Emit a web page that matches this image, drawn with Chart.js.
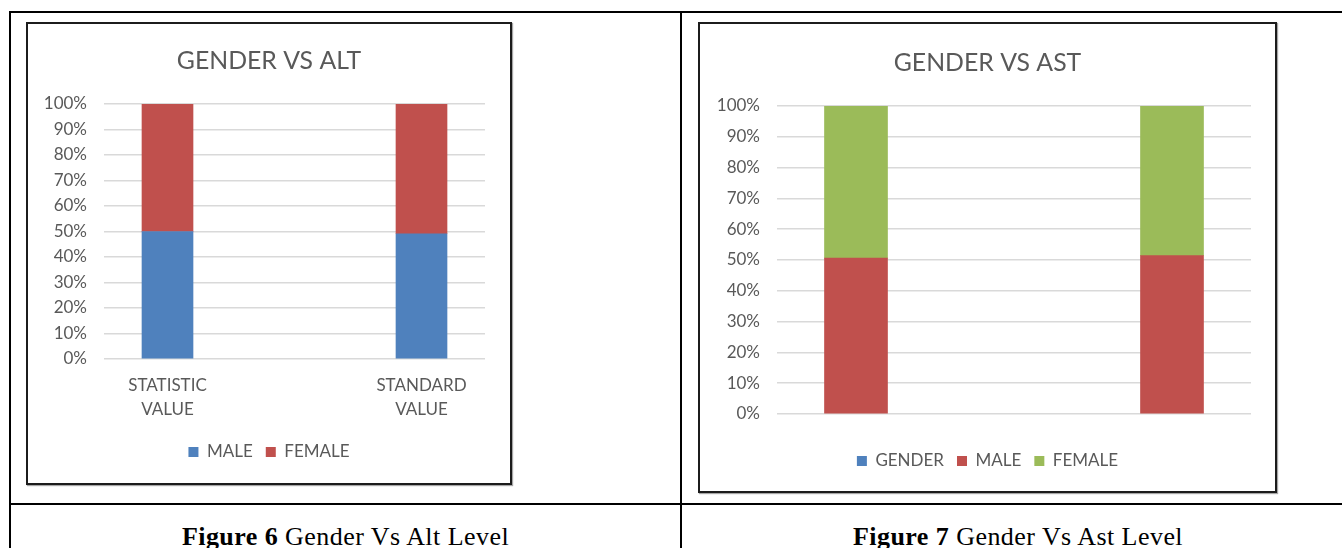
<!DOCTYPE html>
<html>
<head>
<meta charset="utf-8">
<title>Gender vs ALT / AST</title>
<script src="https://cdn.jsdelivr.net/npm/chart.js@4.4.1/dist/chart.umd.min.js"></script>
<style>
  html, body { margin: 0; padding: 0; background: #fff; }
  body { width: 1342px; height: 548px; position: relative; overflow: hidden; }
  .rule { position: absolute; background: #000; }
  .frame { position: absolute; box-sizing: border-box; border: 2px solid #1c1c1c;
           box-shadow: 1px 1px 1px rgba(0,0,0,0.35); background: #fff; }
  canvas { position: absolute; }
  .caption { position: absolute; font-family: 'Liberation Serif', 'DejaVu Serif', serif;
             font-size: 26px; line-height: 30px; letter-spacing: 0.45px;
             text-align: center; color: #000; white-space: nowrap; }
  .caption b { font-weight: bold; }
</style>
</head>
<body>
  <!-- table rules -->
  <div class="rule" style="left:9px; top:11px; width:1333px; height:2px"></div>
  <div class="rule" style="left:9px; top:11px; width:2px; height:537px"></div>
  <div class="rule" style="left:680px; top:11px; width:2px; height:537px"></div>
  <div class="rule" style="left:9px; top:503px; width:1333px; height:2px"></div>

  <!-- chart frames -->
  <div class="frame" style="left:26px; top:22px; width:486px; height:463px"></div>
  <canvas id="altChart" width="482" height="457" style="left:28px; top:25px"></canvas>

  <div class="frame" style="left:698px; top:22px; width:579px; height:471px"></div>
  <canvas id="astChart" width="573" height="465" style="left:701px; top:25px"></canvas>

  <div class="caption" style="left:11px; top:522px; width:669px"><b>Figure 6</b> Gender Vs Alt Level</div>
  <div class="caption" style="left:682px; top:522px; width:672px"><b>Figure 7</b> Gender Vs Ast Level</div>

<script>
// ---- data ----
const altCategories = ['STATISTIC VALUE', 'STANDARD VALUE'];
const altMale   = [50.0, 49.1];
const altFemale = [50.0, 50.9];

const astCategories = ['', ''];
const astGender = [null, null];
const astMale   = [50.6, 51.4];
const astFemale = [49.4, 48.6];

const percentTicks = [0, 10, 20, 30, 40, 50, 60, 70, 80, 90, 100];

// ---- palette ----
const BLUE = '#4F81BD', RED = '#C0504D', GREEN = '#9BBB59';
const TEXT = '#595959', GRID = '#d9d9d9';

Chart.defaults.font.family = "Lato, 'Open Sans', sans-serif";
Chart.defaults.color = TEXT;

function series(label, values, color) {
  return {
    label,
    data: values.map((v, i) => ({ x: i, y: v })),
    backgroundColor: color,
    borderWidth: 0
  };
}

function percentStack(canvasId, cfg) {
  return new Chart(document.getElementById(canvasId), {
    type: 'bar',
    data: { datasets: cfg.datasets },
    options: {
      responsive: false,
      animation: false,
      barThickness: cfg.barThickness,
      layout: { padding: { left: 0, right: 0, top: 0, bottom: cfg.bottomPad } },
      plugins: {
        tooltip: { enabled: false },
        title: {
          display: true,
          text: cfg.title,
          color: TEXT,
          font: { size: 24.8, weight: 'normal' },
          padding: { top: cfg.titleTop, bottom: cfg.titleBottom }
        },
        legend: {
          position: 'bottom',
          labels: { boxWidth: 10, boxHeight: 10, padding: 13, color: TEXT, font: { size: 17 } }
        }
      },
      scales: {
        x: {
          type: 'linear',
          stacked: true,
          offset: false,
          min: -0.25,
          max: 1.25,
          grid: { display: false, drawTicks: false },
          border: { display: false },
          afterBuildTicks: s => { s.ticks = cfg.categories.map((_, i) => ({ value: i })); },
          afterFit: s => { s.height = cfg.xAxisHeight; },
          ticks: {
            display: cfg.showCategories,
            autoSkip: false,
            maxRotation: 0,
            padding: 15,
            color: TEXT,
            font: { size: 17, lineHeight: 1.38 },
            callback: v => (cfg.categories[v] || '').split(' ')
          }
        },
        y: {
          stacked: true,
          min: 0,
          max: 100,
          grid: { color: GRID, lineWidth: 1.5, drawTicks: false },
          border: { display: false },
          afterBuildTicks: s => { s.ticks = percentTicks.map(v => ({ value: v })); },
          afterFit: s => { s.width = cfg.yAxisWidth; },
          ticks: {
            padding: 17,
            color: TEXT,
            font: { size: 17 },
            callback: v => v + '%'
          }
        },
        // empty right-hand margin of the plot area
        rightMargin: {
          axis: 'y',
          position: 'right',
          grid: { display: false, drawTicks: false },
          border: { display: false },
          ticks: { display: false },
          afterFit: s => { s.width = cfg.rightMargin; }
        }
      }
    }
  });
}

percentStack('altChart', {
  title: 'GENDER VS ALT',
  categories: altCategories,
  showCategories: true,
  datasets: [
    series('MALE', altMale, BLUE),
    series('FEMALE', altFemale, RED)
  ],
  barThickness: 51,
  bottomPad: 11.5,
  titleTop: 21.6,
  titleBottom: 27.6,
  xAxisHeight: 71.5,
  yAxisWidth: 76,
  rightMargin: 25
});

percentStack('astChart', {
  title: 'GENDER VS AST',
  categories: astCategories,
  showCategories: false,
  datasets: [
    series('GENDER', astGender, BLUE),
    series('MALE', astMale, RED),
    series('FEMALE', astFemale, GREEN)
  ],
  barThickness: 63,
  bottomPad: 10.5,
  titleTop: 22.8,
  titleBottom: 28.4,
  xAxisHeight: 25.5,
  yAxisWidth: 76,
  rightMargin: 23
});
</script>
</body>
</html>
